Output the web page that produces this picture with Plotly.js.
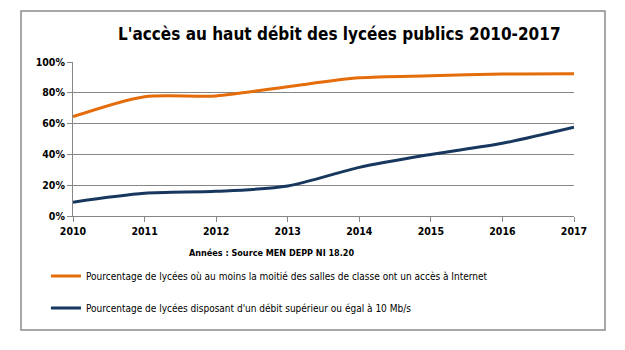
<!DOCTYPE html>
<html>
<head>
<meta charset="utf-8">
<script src="https://cdn.plot.ly/plotly-3.0.1.min.js"></script>
<style>html,body{margin:0;padding:0;background:#fff;}#chart{width:625px;height:350px;}</style>
</head>
<body>
<div id="chart"></div>
<script>
const years = [2010, 2011, 2012, 2013, 2014, 2015, 2016, 2017];
const internetSalles = [0.645, 0.775, 0.78, 0.84, 0.897, 0.91, 0.922, 0.924];
const debit10Mb = [0.09, 0.147, 0.16, 0.195, 0.316, 0.40, 0.472, 0.576];
const seriesNames = [
  "Pourcentage de lycées où au moins la moitié des salles de classe ont un accès à Internet",
  "Pourcentage de lycées disposant d'un débit supérieur ou égal à 10 Mb/s"
];
const yTicks = [0, 0.2, 0.4, 0.6, 0.8, 1.0];
const yTickLabels = ["0%", "20%", "40%", "60%", "80%", "100%"];
const titleText = "L'accès au haut débit des lycées publics 2010-2017";
const xTitleText = "Années : Source MEN DEPP NI 18.20";

const FONT = "'DejaVu Sans Condensed', 'Liberation Sans Narrow', Arial, sans-serif";

const traces = [
  {x: years, y: internetSalles, name: seriesNames[0], mode: "lines", legendgroup: "a",
   line: {color: "#E46C0A", width: 3, shape: "spline", smoothing: 0.8}},
  {x: years, y: debit10Mb, name: seriesNames[1], mode: "lines", legendgroup: "b",
   line: {color: "#17375E", width: 3, shape: "spline", smoothing: 0.8}}
];

const layout = {
  width: 625, height: 350,
  margin: {l: 73, r: 51, t: 62, b: 134},
  paper_bgcolor: "#ffffff", plot_bgcolor: "#ffffff",
  font: {family: FONT, color: "#000"},
  showlegend: true,
  legend: {x: -0.054, xanchor: "left", y: -0.296, yanchor: "top",
    orientation: "v", traceorder: "grouped", tracegroupgap: 13,
    font: {family: FONT, size: 10, color: "#000"}, bgcolor: "rgba(0,0,0,0)"},
  xaxis: {
    range: [2010, 2017], tickvals: years, ticktext: years.map(String),
    showgrid: false, zeroline: false,
    showline: true, linecolor: "#868686", linewidth: 1,
    ticks: "outside", ticklen: 5, tickcolor: "#868686",
    tickfont: {family: FONT, size: 10.5, color: "#000", weight: "bold"}
  },
  yaxis: {
    range: [0, 1], tickvals: yTicks, ticktext: yTickLabels,
    showgrid: true, gridcolor: "#868686", gridwidth: 1, zeroline: false,
    showline: true, linecolor: "#868686", linewidth: 1,
    ticks: "outside", ticklen: 5, tickcolor: "#868686",
    tickfont: {family: FONT, size: 10.5, color: "#000", weight: "bold"}
  },
  annotations: [
    {text: "<b>" + titleText + "</b>", xref: "paper", yref: "paper",
     x: (339 - 73) / 501, y: (216 - 34) / 154, xanchor: "center", yanchor: "middle",
     showarrow: false, font: {family: FONT, size: 17, color: "#000"}},
    {text: "<b>" + xTitleText + "</b>", xref: "paper", yref: "paper",
     x: (271 - 73) / 501, y: (216 - 253) / 154, xanchor: "center", yanchor: "middle",
     showarrow: false, font: {family: FONT, size: 9, color: "#000"}}
  ],
  shapes: [
    {type: "rect", xref: "paper", yref: "paper",
     x0: (21 - 73) / 501, x1: (605 - 73) / 501,
     y0: (216 - 330) / 154, y1: (216 - 11) / 154,
     line: {color: "#8a8a8a", width: 1.5}, fillcolor: "rgba(0,0,0,0)"}
  ]
};

Plotly.newPlot("chart", traces, layout, {displayModeBar: false, staticPlot: true});
</script>
</body>
</html>
